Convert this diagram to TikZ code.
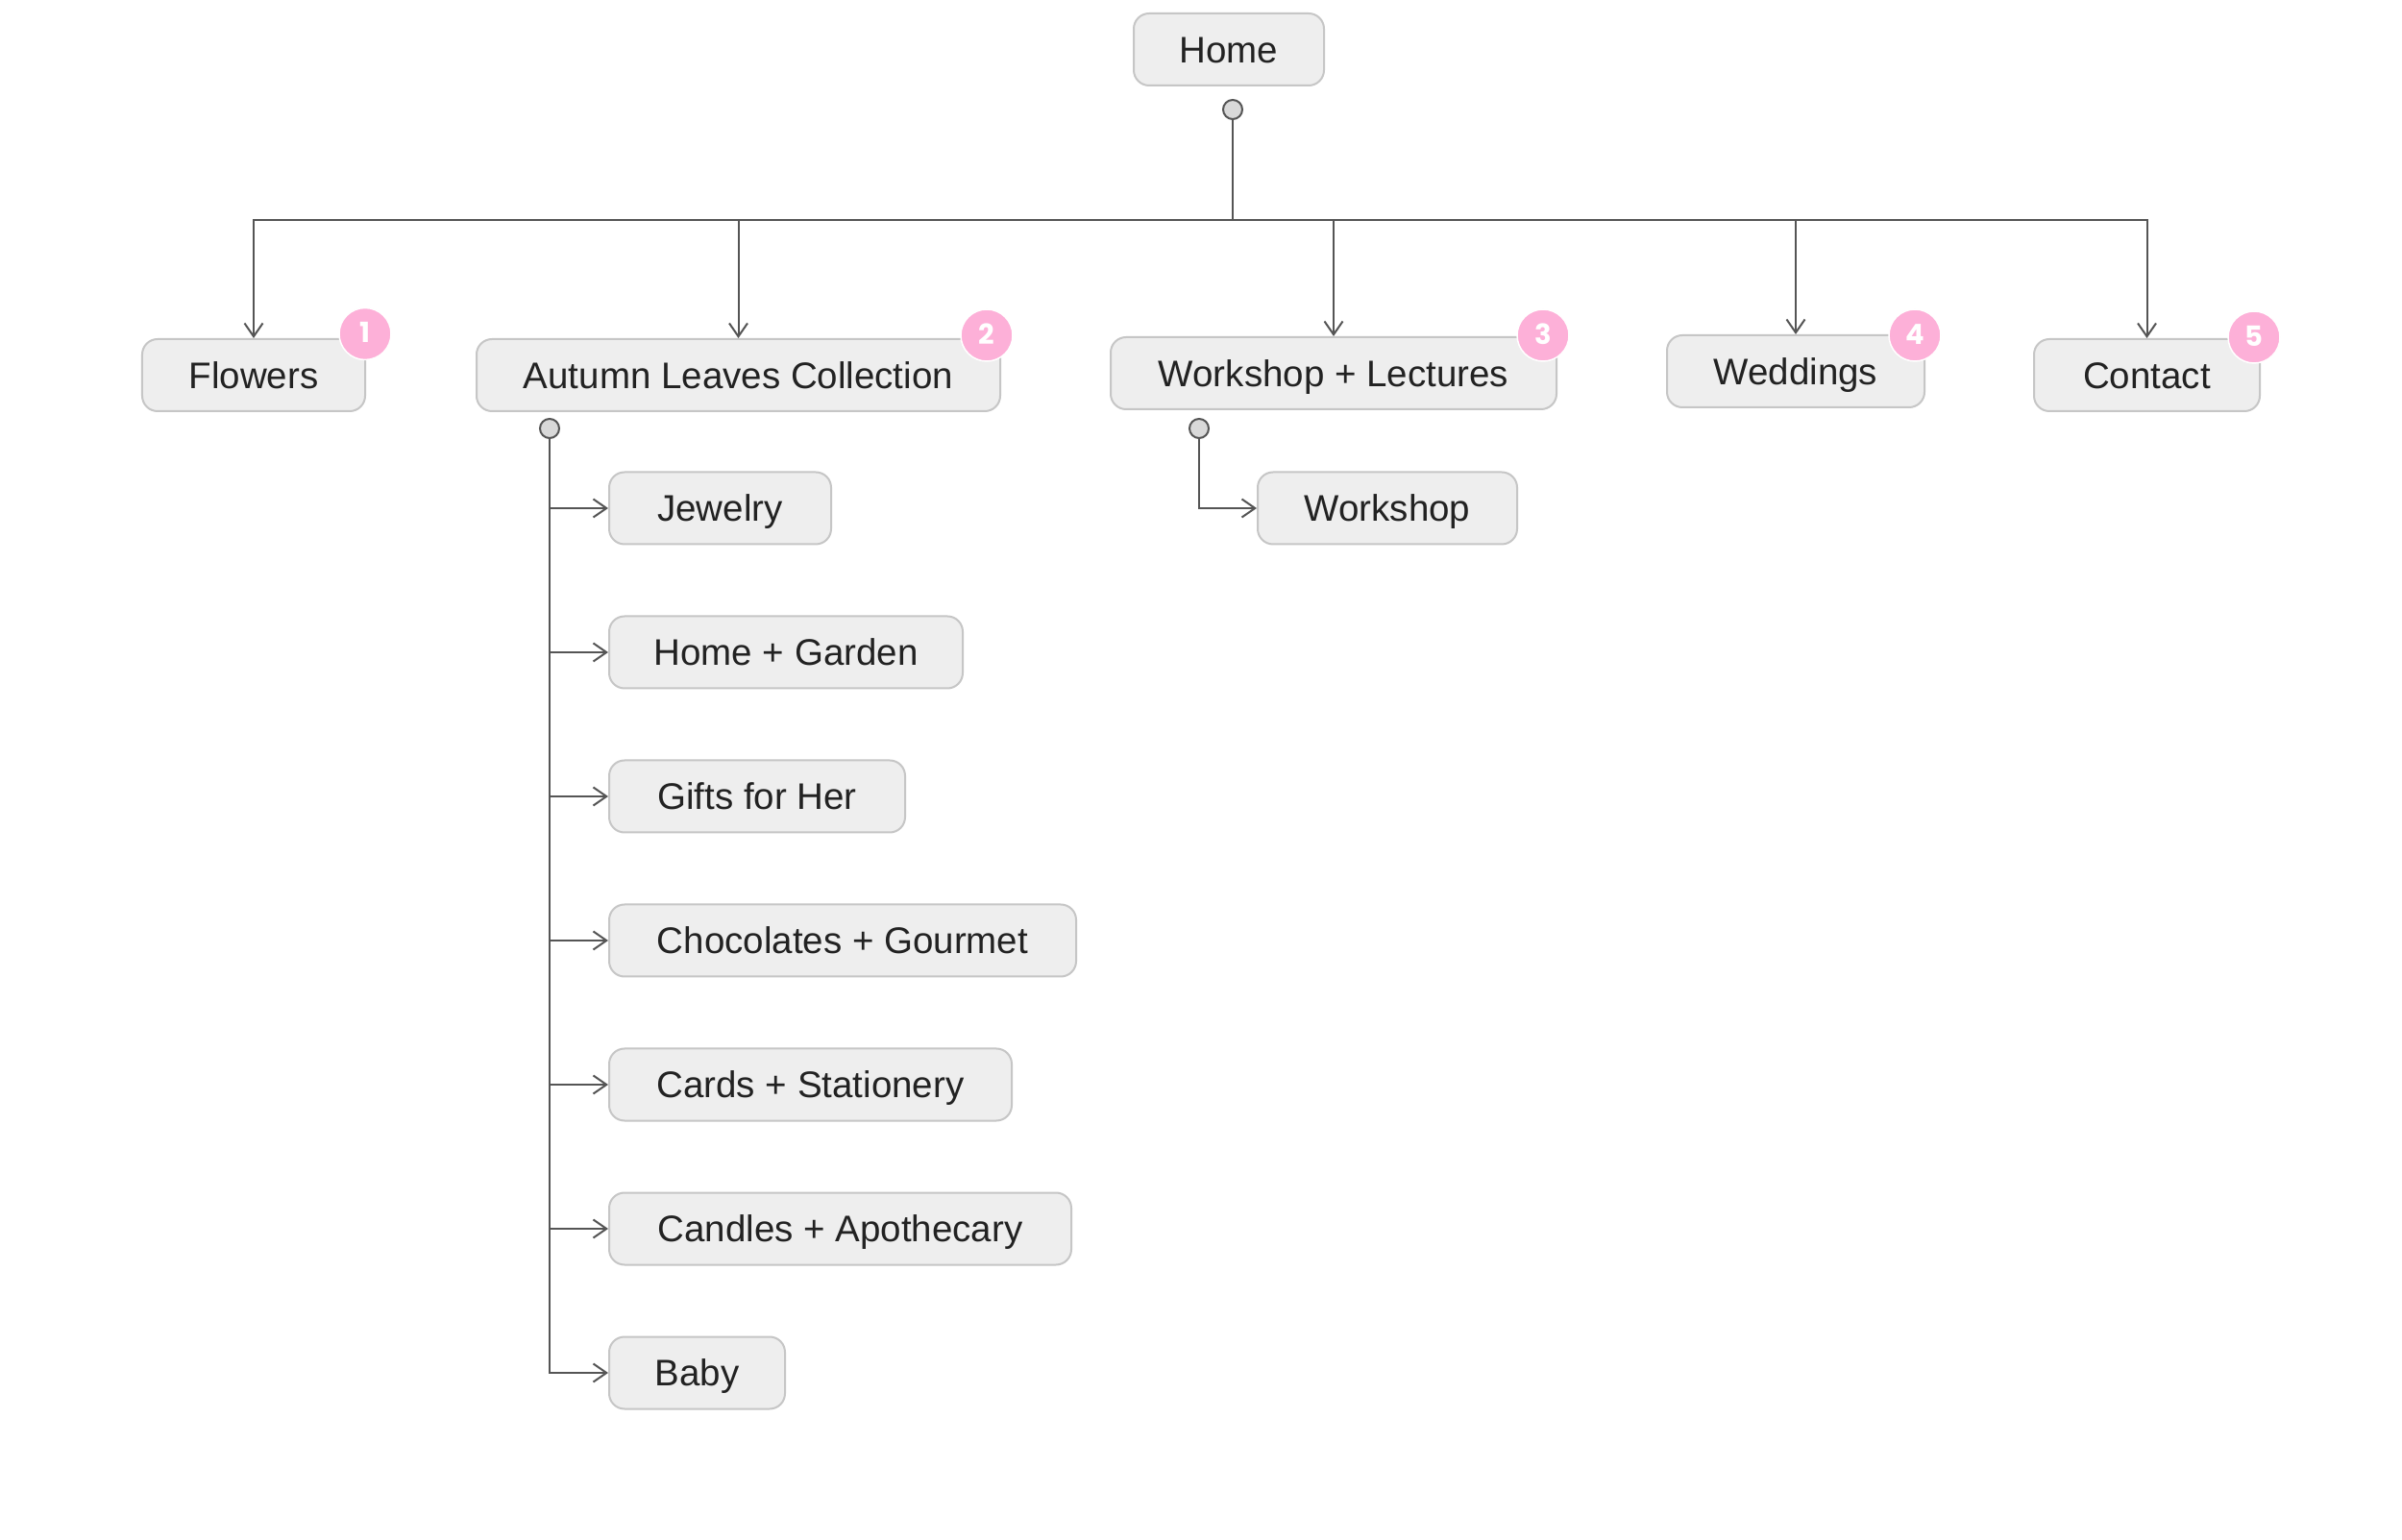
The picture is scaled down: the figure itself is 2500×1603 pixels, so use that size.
\documentclass[tikz,border=0pt]{standalone}
\usepackage{fontspec}
\setmainfont{Liberation Sans}
\newfontfamily\badgefont{Poppins}
\usetikzlibrary{arrows.meta}
\definecolor{boxfill}{HTML}{EEEEEE}
\definecolor{boxline}{HTML}{C6C6C6}
\definecolor{txt}{HTML}{222222}
\definecolor{wire}{HTML}{555555}
\definecolor{dotfill}{HTML}{D9D9D9}
\definecolor{badgepink}{HTML}{FDB0D8}
\tikzset{
  box/.style={draw=boxline, fill=boxfill, rounded corners=6.4pt, line width=0.8pt,
    minimum height=30pt, inner sep=0pt, text=txt, text height=10.9pt, text depth=0pt,
    font=\fontsize{15.4pt}{18pt}\selectfont},
  cbox/.style={box, anchor=west},
  dotnode/.style={circle, draw=wire, fill=dotfill, line width=0.8pt, minimum size=8pt, inner sep=0pt},
  wireline/.style={draw=wire, line width=0.8pt},
  arr/.style={-{Straight Barb[length=5.5pt,width=7.6pt,line width=0.8pt]}},
  badge/.style={circle, fill=badgepink, draw=white, line width=0.6pt, minimum size=21.6pt, inner sep=0pt,
    text=white, text height=7.6pt, text depth=0pt, font=\badgefont\bfseries\fontsize{11.6pt}{13pt}\selectfont}
}
\begin{document}
\begin{tikzpicture}[x=0.4pt,y=-0.4pt]
\fill[white] (0,0) rectangle (2500,1603);
\useasboundingbox (0,0) rectangle (2500,1603);

% top level
\node[box, minimum width=79.2pt] (home) at (1279,51.5) {Home};
\node[box, minimum width=92.8pt] (flowers) at (264,390.5) {Flowers};
\node[box, minimum width=218pt] (autumn) at (768.5,390.5) {Autumn Leaves Collection};
\node[box, minimum width=185.6pt] (wl) at (1388,388.5) {Workshop + Lectures};
\node[box, minimum width=107.2pt] (weddings) at (1869,386.5) {Weddings};
\node[box, minimum width=94pt] (contact) at (2234.5,390.5) {Contact};

% children of Autumn Leaves Collection
\node[cbox, minimum width=92.4pt] (jewelry) at (633,529) {Jewelry};
\node[cbox, minimum width=147.2pt] (garden) at (633,679) {Home + Garden};
\node[cbox, minimum width=123.2pt] (gifts) at (633,829) {Gifts for Her};
\node[cbox, minimum width=194.4pt] (choc) at (633,979) {Chocolates + Gourmet};
\node[cbox, minimum width=167.6pt] (cards) at (633,1129) {Cards + Stationery};
\node[cbox, minimum width=192.4pt] (candles) at (633,1279) {Candles + Apothecary};
\node[cbox, minimum width=73.2pt] (baby) at (633,1429) {Baby};

% child of Workshop + Lectures
\node[cbox, minimum width=108pt] (workshop) at (1308,529) {Workshop};

% connector dots
\node[dotnode] (hdot) at (1283,114) {};
\node[dotnode] (adot) at (572,446) {};
\node[dotnode] (wdot) at (1248,446) {};
\coordinate (bus) at (1283,229);

% top level connectors
\draw[wireline] (hdot) -- (bus);
\draw[wireline, arr] (bus) -| (flowers.north);
\draw[wireline, arr] (bus) -| (autumn.north);
\draw[wireline, arr] (bus) -| (wl.north);
\draw[wireline, arr] (bus) -| (weddings.north);
\draw[wireline, arr] (bus) -| (contact.north);

% Autumn children
\draw[wireline, arr] (adot) |- (jewelry.west);
\draw[wireline, arr] (adot) |- (garden.west);
\draw[wireline, arr] (adot) |- (gifts.west);
\draw[wireline, arr] (adot) |- (choc.west);
\draw[wireline, arr] (adot) |- (cards.west);
\draw[wireline, arr] (adot) |- (candles.west);
\draw[wireline, arr] (adot) |- (baby.west);

% Workshop child
\draw[wireline, arr] (wdot) |- (workshop.west);

% badges
\node[badge] (b1) at (380,347.5) {1};
\node[badge] (b2) at (1027,349) {2};
\node[badge] (b3) at (1606,349) {3};
\node[badge] (b4) at (1993,349) {4};
\node[badge] (b5) at (2346,351) {5};
\end{tikzpicture}
\end{document}
